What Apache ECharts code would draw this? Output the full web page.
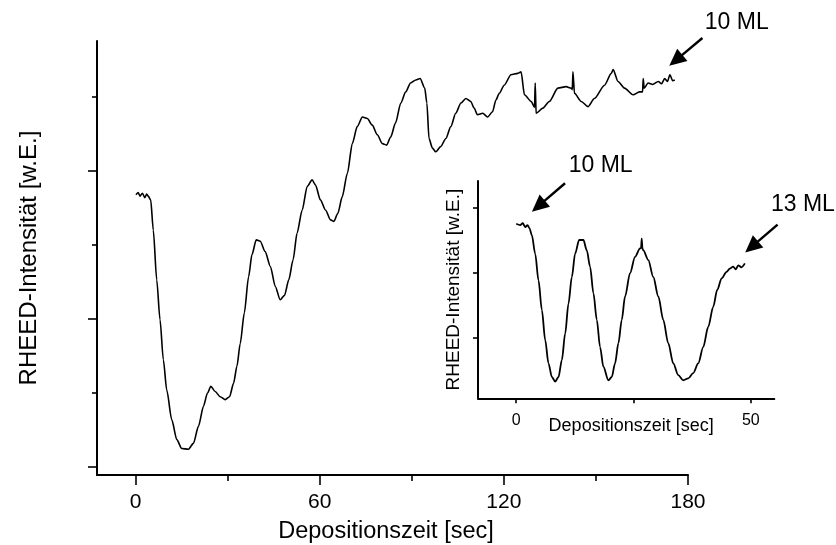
<!DOCTYPE html>
<html><head><meta charset="utf-8">
<script src="https://cdn.jsdelivr.net/npm/echarts@6/dist/echarts.min.js"></script>
<style>html,body{margin:0;padding:0;background:#fff}#c{width:836px;height:545px}</style>
</head><body><div id="c"></div>
<script>
// ---- data ----
const mainTime = [0.1,0.8,1.4,2.2,3.0,3.6,4.1,4.9,5.75,6.86,7.94,9.02,10.13,11.76,13.4,15.03,17.19,18.82,20.46,22.09,23.4,24.5,25.9,27.55,29.18,30.6,31.9,33.0,34.08,35.4,36.8,37.9,39.3,40.6,42.2,43.9,45.5,47.1,48.5,49.9,51.3,52.6,54.25,55.9,57.5,58.6,60.2,61.9,63.5,64.6,65.9,67.3,69.0,70.6,72.2,73.9,75.5,77.1,78.76,80.4,81.8,83.1,84.7,86.4,88.0,89.6,91.3,92.7,94.2,94.9,95.6,96.7,97.8,99.4,101.1,102.7,104.3,106.0,107.6,109.2,110.3,111.4,113.1,114.7,116.3,117.4,118.5,120.1,122.3,124.5,125.6,126.7,128.9,130.0,130.2,130.5,132.7,134.8,137.6,140.3,141.9,142.3,142.5,143.0,145.2,147.4,149.5,152.8,155.0,155.6,157.2,159.3,162.1,164.2,165.2,165.4,165.7,167.0,168.5,170.3,171.4,172.4,173.3,174.1,175.0,175.7];
const mainIntensity = [3.68,3.71,3.66,3.70,3.64,3.69,3.66,3.61,3.20,2.53,1.99,1.45,1.04,0.64,0.37,0.25,0.24,0.32,0.55,0.82,1.00,1.09,1.02,0.95,0.91,0.95,1.13,1.36,1.67,2.08,2.57,2.87,3.07,3.05,2.91,2.71,2.44,2.26,2.32,2.53,2.80,3.16,3.47,3.79,3.88,3.81,3.61,3.47,3.34,3.32,3.43,3.65,3.97,4.37,4.60,4.73,4.71,4.62,4.49,4.37,4.35,4.46,4.65,4.92,5.07,5.19,5.23,5.25,5.12,4.92,4.44,4.31,4.26,4.33,4.44,4.60,4.78,4.92,4.98,4.94,4.85,4.76,4.78,4.73,4.80,4.96,5.05,5.16,5.30,5.32,5.34,5.03,4.94,4.86,5.19,4.78,4.85,4.94,5.12,5.14,5.12,5.10,5.34,5.05,4.94,4.87,4.98,5.16,5.32,5.37,5.21,5.12,5.03,5.07,5.07,5.25,5.12,5.19,5.17,5.21,5.18,5.25,5.21,5.30,5.22,5.23];
const insetTime = [0,0.85,1.4,1.91,2.4,2.83,3.34,4.04,4.74,5.47,6.17,6.87,7.6,8.3,9.0,9.72,10.43,11.13,11.85,12.55,13.4,14.32,15.04,15.74,16.45,17.17,17.87,18.57,19.64,20.36,21.06,21.77,22.49,23.19,24.26,25.32,26.38,26.6,26.74,26.9,27.09,28.15,29.21,30.28,31.34,32.4,33.47,34.53,35.6,36.66,37.72,38.79,39.85,40.91,41.98,42.83,43.77,44.83,45.5,46.23,46.8,47.3,48.0,48.72];
const insetIntensity = [1.75,1.73,1.76,1.70,1.73,1.68,1.57,1.29,0.88,0.42,-0.04,-0.40,-0.61,-0.68,-0.61,-0.35,0.06,0.52,0.93,1.29,1.50,1.50,1.34,1.09,0.68,0.27,-0.15,-0.45,-0.66,-0.61,-0.40,-0.09,0.27,0.63,0.99,1.24,1.37,1.37,1.52,1.37,1.34,1.19,0.93,0.63,0.27,-0.09,-0.40,-0.58,-0.66,-0.63,-0.55,-0.40,-0.15,0.16,0.47,0.73,0.91,1.01,1.06,1.09,1.05,1.11,1.08,1.14];
const mainXTicks = [0,60,120,180];
const mainXMinor = [30,90,150];
const mainYMajor = [0,2,4];
const mainYMinor = [1,3,5];
const insetXTicks = [0,25,50];
const insetXLabels = [0,50];
const insetYTicks = [0,1,2];
const annotations = [
  {grid:0, text:'10 ML', textAt:[195.9,6.0], from:[184.7,5.797], to:[173.9,5.423]},
  {grid:1, text:'10 ML', textAt:[18,2.65], from:[10.4,2.374], to:[3.34,1.937]},
  {grid:1, text:'13 ML', textAt:[61.1,2.04], from:[55.7,1.738], to:[48.8,1.308]}
];

const FONT = 'Liberation Sans, Arial, Helvetica, sans-serif';
const pair = (a,b) => a.map((v,i)=>[v,b[i]]);

function axisBase(extra){
  return Object.assign({
    type:'value', splitLine:{show:false}, nameMoveOverlap:false,
    axisLine:{show:true,onZero:false,lineStyle:{color:'#000',width:2}},
    axisTick:{show:true,inside:false,lineStyle:{color:'#000',width:1.6}},
    axisLabel:{show:false,color:'#000',fontFamily:FONT}
  }, extra);
}

const option = {
  animation:false,
  backgroundColor:'#fff',
  grid:[
    {left:97, width:591, top:41, height:434, outerBoundsMode:'none', containLabel:false},
    {left:478, width:296.3, top:181, height:217.3, outerBoundsMode:'none', containLabel:false}
  ],
  xAxis:[
    axisBase({gridIndex:0, position:'bottom', min:-12.6, max:180,
      axisTick:{show:true,length:10,customValues:mainXTicks,lineStyle:{color:'#000',width:1.6}},
      axisLabel:{show:true,customValues:mainXTicks,fontSize:21,margin:17,color:'#000',fontFamily:FONT},
      name:'Depositionszeit [sec]', nameLocation:'middle', nameGap:45,
      nameTextStyle:{fontSize:23.5,color:'#000',fontFamily:FONT,padding:[0,13,0,0]}}),
    axisBase({gridIndex:0, position:'bottom', min:-12.6, max:180,
      axisLine:{show:false,onZero:false},
      axisTick:{show:true,length:6,customValues:mainXMinor,lineStyle:{color:'#000',width:1.6}}}),
    axisBase({gridIndex:1, position:'bottom', min:-8.15, max:55,
      axisTick:{show:true,length:5,customValues:insetXTicks,lineStyle:{color:'#000',width:1.6}},
      axisLabel:{show:true,customValues:insetXLabels,fontSize:16,margin:14,color:'#000',fontFamily:FONT},
      name:'Depositionszeit [sec]', nameLocation:'middle', nameGap:19,
      nameTextStyle:{fontSize:18,color:'#000',fontFamily:FONT,padding:[0,0,0,10]}})
  ],
  yAxis:[
    axisBase({gridIndex:0, position:'left', min:-0.108, max:5.757,
      axisTick:{show:true,length:9,customValues:mainYMajor,lineStyle:{color:'#000',width:1.6}},
      name:'RHEED-Intensität [w.E.]', nameLocation:'middle', nameGap:56,
      nameTextStyle:{fontSize:24,color:'#000',fontFamily:FONT}}),
    axisBase({gridIndex:0, position:'left', min:-0.108, max:5.757,
      axisLine:{show:false,onZero:false},
      axisTick:{show:true,length:5,customValues:mainYMinor,lineStyle:{color:'#000',width:1.6}}}),
    axisBase({gridIndex:1, position:'left', min:-0.938, max:2.409,
      axisTick:{show:true,length:5,customValues:insetYTicks,lineStyle:{color:'#000',width:1.6}},
      name:'RHEED-Intensität [w.E.]', nameLocation:'middle', nameGap:15,
      nameTextStyle:{fontSize:19,color:'#000',fontFamily:FONT}})
  ],
  series:[
    {type:'line', xAxisIndex:0, yAxisIndex:0, data:pair(mainTime,mainIntensity),
     showSymbol:false, symbol:'none', smooth:0.25, smoothMonotone:'x', lineStyle:{color:'#000',width:1.6}},
    {type:'line', xAxisIndex:2, yAxisIndex:2, data:pair(insetTime,insetIntensity),
     showSymbol:false, symbol:'none', smooth:0.3, smoothMonotone:'x', lineStyle:{color:'#000',width:1.8}}
  ]
};

const chart = echarts.init(document.getElementById('c'), null, {renderer:'canvas'});
chart.setOption(option);

const graphics = [];
annotations.forEach(a=>{
  const px = v => chart.convertToPixel({seriesIndex:a.grid}, v);
  const t = px(a.textAt), f = px(a.from), p = px(a.to);
  const dx = f[0]-p[0], dy = f[1]-p[1], L = Math.hypot(dx,dy);
  const ux = dx/L, uy = dy/L, hl = 17, hw = 8;
  const bx = p[0]+ux*hl, by = p[1]+uy*hl;
  graphics.push({type:'line', shape:{x1:f[0],y1:f[1],x2:bx-ux*2,y2:by-uy*2}, style:{stroke:'#000',lineWidth:2.4}});
  graphics.push({type:'polygon', shape:{points:[[p[0],p[1]],[bx-uy*hw,by+ux*hw],[bx+uy*hw,by-ux*hw]]}, style:{fill:'#000'}});
  graphics.push({type:'text', x:t[0], y:t[1], style:{text:a.text, fontSize:23, fontFamily:FONT, fill:'#000', align:'center', verticalAlign:'middle'}});
});
chart.setOption({graphic:graphics});
</script>
</body></html>
